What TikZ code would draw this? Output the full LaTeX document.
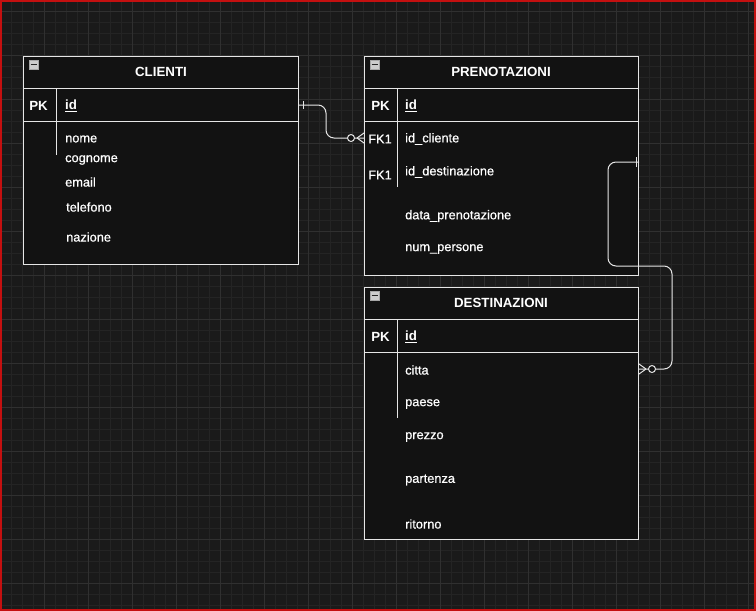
\documentclass[tikz,border=0pt]{standalone}
\usepackage{fontspec}
\setmainfont{Liberation Sans}
\newfontfamily\medfont[FakeBold=0.7]{Liberation Sans}
\usetikzlibrary{calc}
\definecolor{bg}{HTML}{1A1A1A}
\definecolor{minorg}{HTML}{242424}
\definecolor{majorg}{HTML}{303030}
\definecolor{boxfill}{HTML}{121212}
\definecolor{edge}{HTML}{E6E6E6}
\definecolor{frame}{HTML}{C41010}
\tikzset{
  tbl/.style={draw=edge, fill=boxfill, line width=1pt, inner sep=0pt, anchor=north west},
  sep/.style={draw=edge, line width=1pt},
  conn/.style={draw=edge, line width=1pt, rounded corners=8pt},
  tickline/.style={draw=edge, line width=1pt},
  ttl/.style={text=white, font=\bfseries\fontsize{13.3}{15}\selectfont, inner sep=0pt},
  key/.style={text=white, font=\bfseries\fontsize{13.3}{15}\selectfont, inner sep=0pt},
  fld/.style={text=white, font=\medfont\fontsize{12.8}{14}\selectfont, inner sep=0pt, anchor=west},
  fkey/.style={text=white, font=\medfont\fontsize{12.8}{14}\selectfont, inner sep=0pt},
  minus/.style={fill=gray!40!white, draw=gray!70, line width=0.5pt}
}
\begin{document}
\begin{tikzpicture}[x=1pt,y=-1pt]
\useasboundingbox (0,0) rectangle (756,611);
\fill[bg] (0,0) rectangle (756,611);
\foreach \x in {0,11,...,756} \draw[minorg, line width=0.5pt] (\x,0) -- (\x,611);
\foreach \y in {0,11,...,611} \draw[minorg, line width=0.5pt] (0,\y) -- (756,\y);
\foreach \x in {0,44,...,756} \draw[majorg, line width=0.6pt] (\x,0) -- (\x,611);
\foreach \y in {11,55,...,611} \draw[majorg, line width=0.6pt] (0,\y) -- (756,\y);
\draw[frame, line width=2pt] (1,1) rectangle (755,610);

% CLIENTI
\node[tbl, minimum width=275pt, minimum height=208pt] (clienti) at (23,56) {};
\draw[sep] ($(clienti.north west)+(0,32)$) -- ++(275,0);
\draw[sep] ($(clienti.north west)+(0,65)$) -- ++(275,0);
\draw[sep] ($(clienti.north west)+(33,32)$) -- ++(0,67);
\fill[minus] (29,60) rectangle (38,69);
\draw[gray!30!black, line width=1.2pt] (30.5,64.5) -- (36.5,64.5);
\node[ttl] (clt) at (161,72) {CLIENTI};
\node[key] (clpk) at (38.5,105.5) {PK};
\node[fld, font=\bfseries\fontsize{13.3}{15}\selectfont] (clid) at (65,106) {\underline{id}};
\node[fld] (cl1) at (65,139) {nome};
\node[fld] (cl2) at (65,160) {cognome};
\node[fld] (cl3) at (65,182) {email};
\node[fld] (cl4) at (66,207) {telefono};
\node[fld] (cl5) at (66,237) {nazione};

% PRENOTAZIONI
\node[tbl, minimum width=274pt, minimum height=219pt] (pren) at (364,56) {};
\draw[sep] ($(pren.north west)+(0,32)$) -- ++(274,0);
\draw[sep] ($(pren.north west)+(0,65)$) -- ++(274,0);
\draw[sep] ($(pren.north west)+(33,32)$) -- ++(0,99);
\fill[minus] (370,60) rectangle (379,69);
\draw[gray!30!black, line width=1.2pt] (371.5,64.5) -- (377.5,64.5);
\node[ttl] (prt) at (501,72) {PRENOTAZIONI};
\node[key] (prpk) at (380.5,105.5) {PK};
\node[fld, font=\bfseries\fontsize{13.3}{15}\selectfont] (prid) at (405,106) {\underline{id}};
\node[fkey] (prfk1) at (380,139) {FK1};
\node[fld] (pr1) at (405,139) {id\_cliente};
\node[fkey] (prfk2) at (380,175) {FK1};
\node[fld] (pr2) at (405,172) {id\_destinazione};
\node[fld] (pr3) at (405,216) {data\_prenotazione};
\node[fld] (pr4) at (405,249) {num\_persone};

% DESTINAZIONI
\node[tbl, minimum width=274pt, minimum height=252pt] (dest) at (364,287) {};
\draw[sep] ($(dest.north west)+(0,32)$) -- ++(274,0);
\draw[sep] ($(dest.north west)+(0,65)$) -- ++(274,0);
\draw[sep] ($(dest.north west)+(33,32)$) -- ++(0,99);
\fill[minus] (370,291) rectangle (379,300);
\draw[gray!30!black, line width=1.2pt] (371.5,295.5) -- (377.5,295.5);
\node[ttl] (det) at (501,303) {DESTINAZIONI};
\node[key] (depk) at (380.5,336.5) {PK};
\node[fld, font=\bfseries\fontsize{13.3}{15}\selectfont] (deid) at (405,337) {\underline{id}};
\node[fld] (de1) at (405,370) {citta};
\node[fld] (de2) at (405,404) {paese};
\node[fld] (de3) at (405,437) {prezzo};
\node[fld] (de4) at (405,480) {partenza};
\node[fld] (de5) at (405,524) {ritorno};

% connector CLIENTI -> PRENOTAZIONI
\coordinate (c1a) at ($(clienti.north east)+(0,49)$);
\coordinate (c1b) at ($(pren.north west)+(0,82)$);
\draw[conn] (c1a) -- ++(27,0) |- (c1b);
\draw[tickline] ($(c1a)+(4,-4)$) -- ++(0,8);
\draw[tickline, fill=boxfill] ($(c1b)+(-13,0)$) circle (3.5pt);
\draw[tickline] ($(c1b)+(-7,0)$) -- ($(c1b)+(0,-5)$);
\draw[tickline] ($(c1b)+(-7,0)$) -- ($(c1b)+(0,5)$);

% connector PRENOTAZIONI -> DESTINAZIONI
\coordinate (c2a) at ($(pren.north east)+(0,106)$);
\coordinate (c2b) at ($(dest.north east)+(0,82)$);
\draw[conn] (c2a) -- ++(-31,0) -- ++(0,104) -- ++(64,0) -- ++(0,103) -- (c2b);
\draw[tickline] ($(c2a)+(-3,-5)$) -- ++(0,10);
\draw[tickline, fill=boxfill] ($(c2b)+(13,0)$) circle (3.5pt);
\draw[tickline] ($(c2b)+(7,0)$) -- ($(c2b)+(0,-5)$);
\draw[tickline] ($(c2b)+(7,0)$) -- ($(c2b)+(0,5)$);
\end{tikzpicture}
\end{document}
